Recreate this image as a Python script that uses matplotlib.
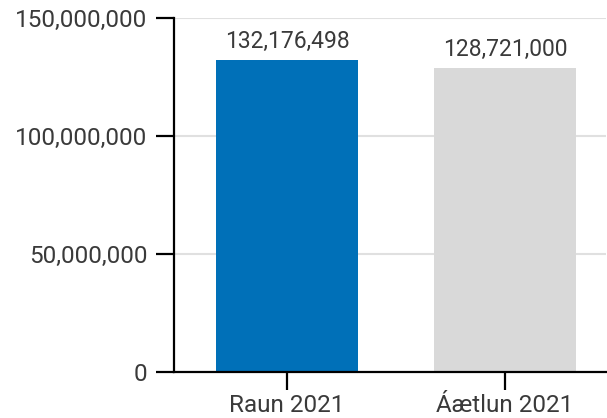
import matplotlib
matplotlib.use("Agg")
import matplotlib.pyplot as plt
from matplotlib.ticker import FuncFormatter

categories = ["Raun 2021", "Áætlun 2021"]
values = [132176498, 128721000]
bar_colors = ["#0070b8", "#d9d9d9"]
yticks = [0, 50000000, 100000000, 150000000]

plt.rcParams['font.family'] = ['Roboto', 'DejaVu Sans']
text_color = "#3a3a3a"

fig = plt.figure(figsize=(6.07, 4.18), dpi=100)
ax = fig.add_axes([174/607, 1 - 372/418, 432/607, 354/418])

x = range(len(categories))
bars = ax.bar(x, values, width=0.651, color=bar_colors, zorder=2)
for xi, v in zip(x, values):
	ax.text(xi, v + 3000000, "{:,}".format(v), ha='center', va='bottom',
			fontsize=16.5, color=text_color)

ax.set_xlim(-0.518, 1.463)
ax.set_ylim(0, 150000000)
ax.set_yticks(yticks)
ax.yaxis.set_major_formatter(FuncFormatter(lambda v, p: "{:,}".format(int(v))))
ax.set_xticks(list(x))
ax.set_xticklabels(categories)

ax.grid(axis='y', color='#e0e0e0', linewidth=1.5, zorder=0)
ax.set_axisbelow(True)
for s in ['top', 'right']:
	ax.spines[s].set_visible(False)
for s in ['left', 'bottom']:
	ax.spines[s].set_linewidth(1.6)
ax.tick_params(axis='both', length=13, width=1.6, labelsize=17.5, labelcolor=text_color)
ax.tick_params(axis='y', pad=6)
ax.tick_params(axis='x', pad=3)

fig.savefig("out.png", dpi=100)
